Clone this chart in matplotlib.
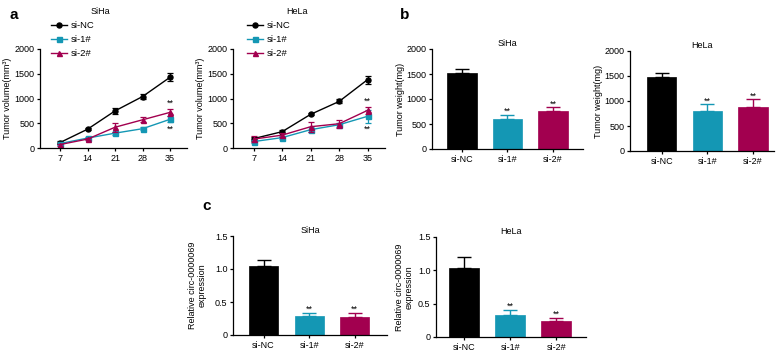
import numpy as np
import matplotlib
matplotlib.use("Agg")
import matplotlib.pyplot as plt

plt.rcParams.update({
    "font.family": ["Liberation Sans", "DejaVu Sans"],
    "font.size": 6.5,
    "axes.linewidth": 0.9,
    "xtick.major.width": 0.9, "ytick.major.width": 0.9,
    "xtick.major.size": 2.5, "ytick.major.size": 2.5,
    "xtick.major.pad": 1.5, "ytick.major.pad": 1.5,
    "axes.spines.top": False, "axes.spines.right": False,
})

BLACK = "#000000"; TEAL = "#1497b4"; RED = "#a2004f"
W, H = 784, 352

# ---- data ----
days = [7, 14, 21, 28, 35]
groups = ["si-NC", "si-1#", "si-2#"]

siha_vol = {"si-NC": [110, 380, 750, 1040, 1430],
            "si-1#": [90, 200, 300, 390, 580],
            "si-2#": [70, 180, 420, 570, 720]}
siha_vol_err = {"si-NC": [30, 20, 60, 60, 80],
                "si-1#": [20, 20, 30, 30, 60],
                "si-2#": [20, 20, 90, 50, 70]}
hela_vol = {"si-NC": [190, 330, 680, 940, 1380],
            "si-1#": [130, 210, 370, 470, 640],
            "si-2#": [180, 260, 430, 490, 760]}
hela_vol_err = {"si-NC": [40, 30, 20, 40, 80],
                "si-1#": [30, 30, 50, 40, 130],
                "si-2#": [60, 40, 100, 80, 70]}

siha_weight = [1520, 610, 770]; siha_weight_err = [90, 80, 70]
hela_weight = [1470, 790, 880]; hela_weight_err = [90, 140, 160]
siha_circ = [1.05, 0.29, 0.28]; siha_circ_err = [0.08, 0.05, 0.06]
hela_circ = [1.04, 0.33, 0.24]; hela_circ_err = [0.16, 0.08, 0.05]

COLORS = {"si-NC": BLACK, "si-1#": TEAL, "si-2#": RED}
MARKERS = {"si-NC": "o", "si-1#": "s", "si-2#": "^"}

fig = plt.figure(figsize=(W / 100, H / 100), dpi=100)


def box(x0, y0, x1, y1):
    """axes from pixel box (left, top, right, bottom)"""
    return fig.add_axes([x0 / W, 1 - y1 / H, (x1 - x0) / W, (y1 - y0) / H])


def ylab(ax, text, px, x0, x1):
    # px = right edge of the rotated label, in figure pixels
    ax.set_ylabel(text)
    ax.yaxis.set_label_coords((px - x0) / (x1 - x0), 0.5)


def line_panel(ax, vals, errs, title, tx, lx):
    for g in groups:
        ax.errorbar(days, vals[g], yerr=errs[g], color=COLORS[g], fmt="none",
                    capsize=2, elinewidth=0.9, capthick=0.9)
        ax.plot(days, vals[g], color=COLORS[g], marker=MARKERS[g], ms=3.6, lw=1.0, label=g)
    top = vals["si-2#"][-1] + errs["si-2#"][-1]
    low = vals["si-1#"][-1] - errs["si-1#"][-1]
    ax.text(35, top + 120, "**", ha="center", va="center", fontsize=6.5)
    ax.text(35, low - 140, "**", ha="center", va="center", fontsize=6.5)
    ax.set_xlim(1.9, 39.3); ax.set_ylim(0, 2000)
    ax.set_xticks(days); ax.set_yticks([0, 500, 1000, 1500, 2000])
    ax.set_yticklabels(["0", "500", "1000", "1500", "2000"])
    ax.legend(loc="upper left", bbox_to_anchor=(lx / W, 1 - 21 / H),
              bbox_transform=fig.transFigure, frameon=False,
              handlelength=1.7, handletextpad=0.4, labelspacing=0.55, fontsize=6.8,
              borderaxespad=0, borderpad=0)
    fig.text(tx / W, 1 - 12 / H, title, ha="center", va="center", fontsize=6.5)


def bar_panel(ax, vals, errs, ylim, yticks, yticklabels, title, star_off):
    x = np.arange(len(groups))
    cols = [COLORS[g] for g in groups]
    ax.bar(x, vals, width=0.64, color=cols, edgecolor=cols, lw=0.5)
    for xi, v, e, c in zip(x, vals, errs, cols):
        ax.errorbar(xi, v, yerr=[[0], [e]], color=c, capsize=5, elinewidth=1.0,
                    capthick=1.0, fmt="none")
    for xi, v, e in zip(x[1:], vals[1:], errs[1:]):
        ax.text(xi, v + e + star_off, "**", ha="center", va="center", fontsize=6.5)
    ax.set_xticks(x); ax.set_xticklabels(groups)
    ax.set_ylim(*ylim); ax.set_yticks(yticks); ax.set_yticklabels(yticklabels)
    ax.set_title(title, fontsize=6.5, pad=2)


# a
ax1 = box(40, 49, 187, 148)
line_panel(ax1, siha_vol, siha_vol_err, "SiHa", 100, 51)
ylab(ax1, "Tumor volume(mm³)", 12, 40, 187)
ax2 = box(233, 49, 385, 148)
line_panel(ax2, hela_vol, hela_vol_err, "HeLa", 297, 247)
ylab(ax2, "Tumor volume(mm³)", 205, 233, 385)

# b
ax3 = box(432, 49, 583, 149)
bar_panel(ax3, siha_weight, siha_weight_err, (0, 2000), [0, 500, 1000, 1500, 2000],
          ["0", "500", "1000", "1500", "2000"], "SiHa", 60)
ax3.set_xlim(-0.66, 2.66)
ylab(ax3, "Tumor weight(mg)", 405, 432, 583)
ax4 = box(630, 51, 774, 151)
bar_panel(ax4, hela_weight, hela_weight_err, (0, 2000), [0, 500, 1000, 1500, 2000],
          ["0", "500", "1000", "1500", "2000"], "HeLa", 60)
ax4.set_xlim(-0.70, 2.46)
ylab(ax4, "Tumor weight(mg)", 603, 630, 774)

# c
ax5 = box(233, 236, 387, 335)
bar_panel(ax5, siha_circ, siha_circ_err, (0, 1.5), [0, 0.5, 1.0, 1.5],
          ["0", "0.5", "1.0", "1.5"], "SiHa", 0.05)
ax5.set_xlim(-0.67, 2.71)
ylab(ax5, "Relative circ-0000069\nexpression", 207, 233, 387)
ax6 = box(436, 237, 586, 337)
bar_panel(ax6, hela_circ, hela_circ_err, (0, 1.5), [0, 0.5, 1.0, 1.5],
          ["0", "0.5", "1.0", "1.5"], "HeLa", 0.05)
ax6.set_xlim(-0.61, 2.65)
ylab(ax6, "Relative circ-0000069\nexpression", 414, 436, 586)

for ax in (ax5, ax6):
    ax.title.set_position((0.5, 1.06))

# panel letters
for lab, x, y in [("a", 14, 15), ("b", 405, 15), ("c", 207, 206)]:
    fig.text(x / W, 1 - y / H, lab, ha="center", va="center", fontsize=11, fontweight="bold")

fig.savefig("out.png", dpi=100)
